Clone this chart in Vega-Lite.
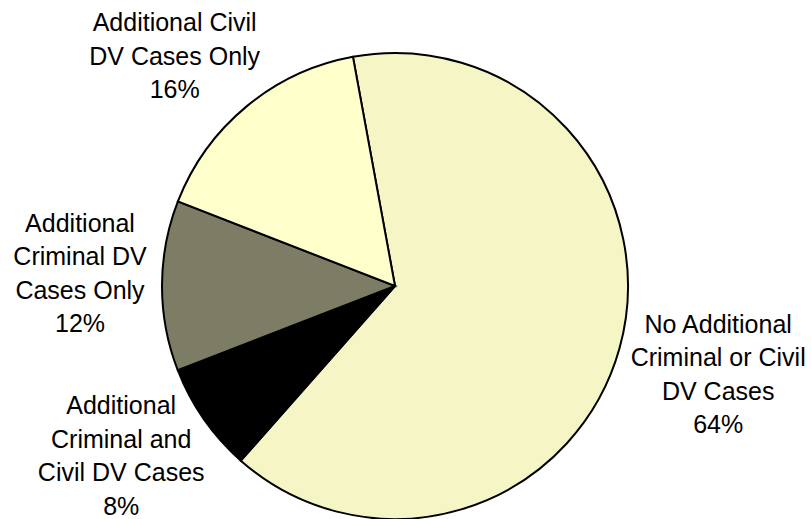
{
  "$schema": "https://vega.github.io/schema/vega-lite/v6.json",
  "width": 790,
  "height": 466,
  "autosize": {"type": "none"},
  "padding": {"left": 0, "top": 53, "right": 21, "bottom": 0},
  "background": "white",
  "config": {"view": {"stroke": null}},
  "data": {
    "values": [
      {"rank": 1, "category": "No Additional Criminal or Civil DV Cases", "label": "No Additional\nCriminal or Civil\nDV Cases\n64%", "share": 64.4},
      {"rank": 2, "category": "Additional Criminal and Civil DV Cases", "label": "Additional\nCriminal and\nCivil DV Cases\n8%", "share": 7.6},
      {"rank": 3, "category": "Additional Criminal DV Cases Only", "label": "Additional\nCriminal DV\nCases Only\n12%", "share": 11.8},
      {"rank": 4, "category": "Additional Civil DV Cases Only", "label": "Additional Civil\nDV Cases Only\n16%", "share": 16.2}
    ]
  },
  "encoding": {
    "theta": {"field": "share", "type": "quantitative", "stack": true, "scale": {"range": [-0.1815, 6.1017]}},
    "order": {"field": "rank", "type": "quantitative"}
  },
  "layer": [
    {
      "mark": {"type": "arc", "outerRadius": 233, "stroke": "black", "strokeWidth": 2},
      "encoding": {
        "color": {
          "field": "category",
          "type": "nominal",
          "legend": null,
          "scale": {
            "domain": ["No Additional Criminal or Civil DV Cases", "Additional Criminal and Civil DV Cases", "Additional Criminal DV Cases Only", "Additional Civil DV Cases Only"],
            "range": ["#F5F5C6", "#000000", "#7D7D66", "#FFFFCC"]
          }
        }
      }
    },
    {
      "mark": {"type": "text", "radius": 324, "dx": 11, "dy": -48, "font": "Liberation Sans", "fontSize": 25, "lineHeight": 33.5, "lineBreak": "\n", "align": "center", "baseline": "middle", "color": "black"},
      "encoding": {
        "text": {"field": "label", "type": "nominal"},
        "opacity": {"condition": {"test": "datum.rank == 1", "value": 1}, "value": 0}
      }
    },
    {
      "mark": {"type": "text", "radius": 324, "dx": -8, "dy": -65, "font": "Liberation Sans", "fontSize": 25, "lineHeight": 33.5, "lineBreak": "\n", "align": "center", "baseline": "middle", "color": "black"},
      "encoding": {
        "text": {"field": "label", "type": "nominal"},
        "opacity": {"condition": {"test": "datum.rank == 2", "value": 1}, "value": 0}
      }
    },
    {
      "mark": {"type": "text", "radius": 324, "dx": 9, "dy": -62, "font": "Liberation Sans", "fontSize": 25, "lineHeight": 33.5, "lineBreak": "\n", "align": "center", "baseline": "middle", "color": "black"},
      "encoding": {
        "text": {"field": "label", "type": "nominal"},
        "opacity": {"condition": {"test": "datum.rank == 3", "value": 1}, "value": 0}
      }
    },
    {
      "mark": {"type": "text", "radius": 324, "dx": -14, "dy": -13, "font": "Liberation Sans", "fontSize": 25, "lineHeight": 33.5, "lineBreak": "\n", "align": "center", "baseline": "middle", "color": "black"},
      "encoding": {
        "text": {"field": "label", "type": "nominal"},
        "opacity": {"condition": {"test": "datum.rank == 4", "value": 1}, "value": 0}
      }
    }
  ]
}
